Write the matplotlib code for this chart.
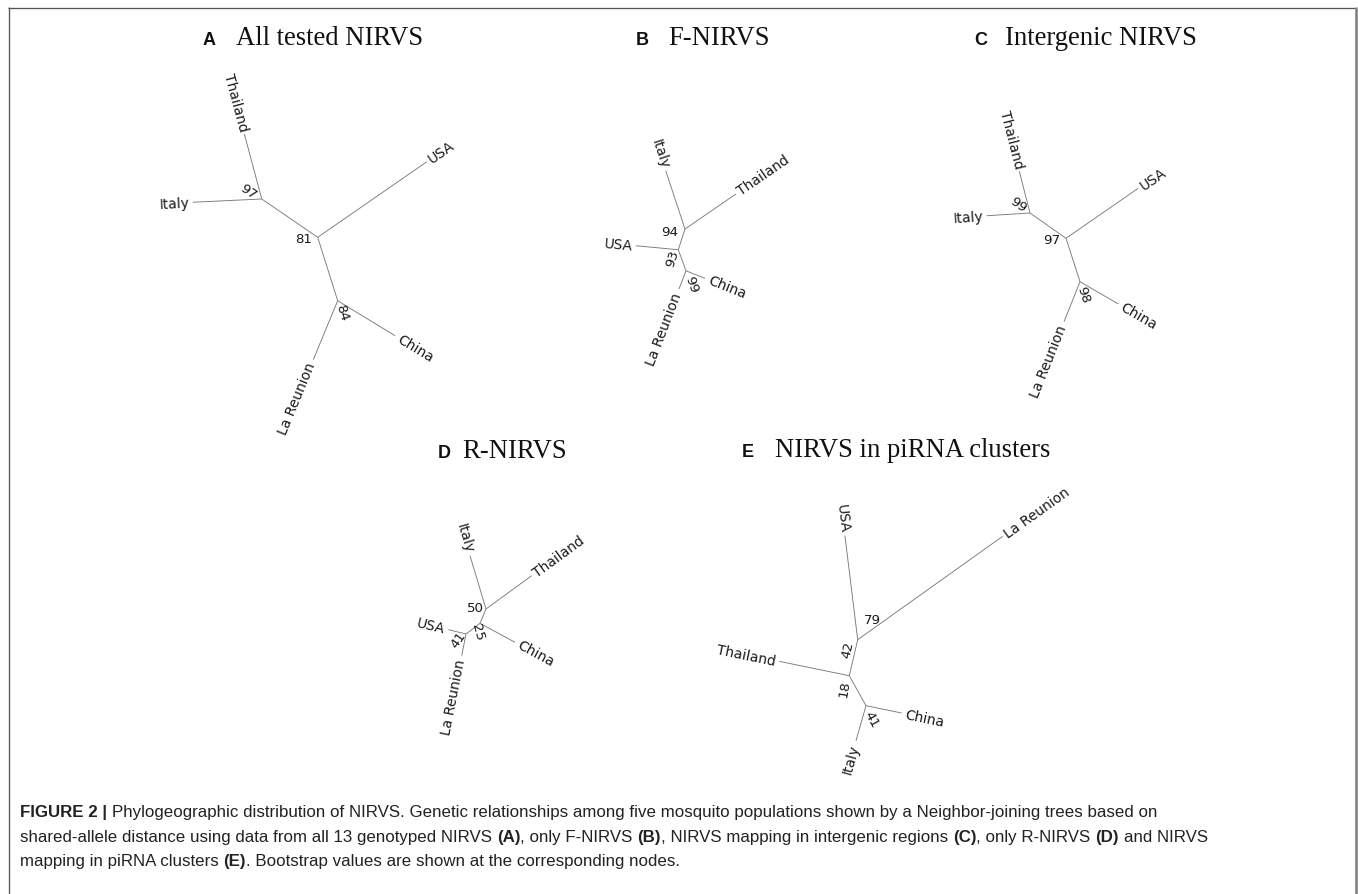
import numpy as np
import matplotlib
matplotlib.use("Agg")
import matplotlib.pyplot as plt

# ---------------------------------------------------------------------------
# Neighbor-joining trees (unrooted, radial layout).
# Each tree: node, parent, branch length, branch direction (degrees).
# ---------------------------------------------------------------------------
tree_a_nodes = ["n97", "Thailand", "Italy", "USA", "n84", "China", "La Reunion"]
tree_a_parents = ["root", "n97", "n97", "root", "root", "n84", "n84"]
tree_a_lengths = [67.8, 67.3, 69.1, 132.6, 66.5, 67.1, 63.8]
tree_a_angles = [145.6, 105.0, 182.7, 34.7, -72.5, -31.4, -112.5]
tree_a_support_nodes = ["root", "n97", "n84"]
tree_a_support = [81, 97, 84]

tree_b_nodes = ["Italy", "Thailand", "n93", "USA", "n99", "China", "La Reunion"]
tree_b_parents = ["root", "root", "root", "n93", "n93", "n99", "n99"]
tree_b_lengths = [61.4, 61.9, 21.8, 42.5, 22.4, 20.5, 19.6]
tree_b_angles = [108.3, 34.5, -107.9, 174.6, -69.9, -21.8, -111.0]
tree_b_support_nodes = ["root", "n93", "n99"]
tree_b_support = [94, 93, 99]

tree_c_nodes = ["n99", "Thailand", "Italy", "USA", "n98", "China", "La Reunion"]
tree_c_parents = ["root", "n99", "n99", "root", "root", "n98", "n98"]
tree_c_lengths = [44.0, 43.0, 43.4, 87.9, 45.6, 44.3, 43.1]
tree_c_angles = [144.9, 104.4, 183.6, 34.7, -72.1, -30.2, -111.8]
tree_c_support_nodes = ["root", "n99", "n98"]
tree_c_support = [97, 99, 98]

tree_d_nodes = ["Italy", "Thailand", "n25", "China", "n41", "USA", "La Reunion"]
tree_d_parents = ["root", "root", "root", "n25", "n25", "n41", "n41"]
tree_d_lengths = [55.7, 56.5, 15.5, 39.8, 17.6, 18.2, 22.1]
tree_d_angles = [106.7, 36.1, -112.8, -28.5, -142.6, 166.3, -101.2]
tree_d_support_nodes = ["root", "n25", "n41"]
tree_d_support = [50, 25, 41]

tree_e_nodes = ["USA", "La Reunion", "n18", "Thailand", "n41", "China", "Italy"]
tree_e_parents = ["root", "root", "root", "n18", "n18", "n41", "n41"]
tree_e_lengths = [104.8, 178.1, 37.0, 71.5, 34.3, 36.4, 36.4]
tree_e_angles = [97.0, 35.5, -103.1, 168.4, -60.9, -11.6, -105.9]
tree_e_support_nodes = ["root", "root", "n18", "n41"]
tree_e_support = [79, 42, 18, 41]

panel_letters = ["A", "B", "C", "D", "E"]
panel_titles = ["All tested NIRVS", "F-NIRVS", "Intergenic NIRVS",
                "R-NIRVS", "NIRVS in piRNA clusters"]

caption_lines = [
    [("FIGURE 2 |", True),
     (" Phylogeographic distribution of NIRVS. Genetic relationships among five "
      "mosquito populations shown by a Neighbor-joining trees based on", False)],
    [("shared-allele distance using data from all 13 genotyped NIRVS ", False),
     ("(A)", True), (", only F-NIRVS ", False), ("(B)", True),
     (", NIRVS mapping in intergenic regions ", False), ("(C)", True),
     (", only R-NIRVS ", False), ("(D)", True), (" and NIRVS", False)],
    [("mapping in piRNA clusters ", False), ("(E)", True),
     (". Bootstrap values are shown at the corresponding nodes.", False)],
]

# ---------------------------------------------------------------------------
# Layout (pixel space)
# ---------------------------------------------------------------------------
W, H, DPI = 1358, 895, 100
BRANCH_COLOR = "#7a7a7a"
TEXT_COLOR = "#1a1a1a"
LEAF_FS = 10.0
SUPPORT_FS = 9.6

trees = [
    dict(nodes=tree_a_nodes, parents=tree_a_parents, lengths=tree_a_lengths,
         angles=tree_a_angles, snodes=tree_a_support_nodes, svals=tree_a_support,
         root=(317.7, 238.3),
         soffs=[(-14.5, 1.5), (-13.5, -8.0), (4.5, 11.5)],
         srots=[0, -35, -72]),
    dict(nodes=tree_b_nodes, parents=tree_b_parents, lengths=tree_b_lengths,
         angles=tree_b_angles, snodes=tree_b_support_nodes, svals=tree_b_support,
         root=(685.0, 230.0),
         soffs=[(-15.0, 2.5), (-5.5, 8.0), (5.5, 13.0)],
         srots=[0, 72, -70]),
    dict(nodes=tree_c_nodes, parents=tree_c_parents, lengths=tree_c_lengths,
         angles=tree_c_angles, snodes=tree_c_support_nodes, svals=tree_c_support,
         root=(1066.0, 239.3),
         soffs=[(-14.5, 1.5), (-12.0, -8.5), (3.5, 12.5)],
         srots=[0, -35, -72]),
    dict(nodes=tree_d_nodes, parents=tree_d_parents, lengths=tree_d_lengths,
         angles=tree_d_angles, snodes=tree_d_support_nodes, svals=tree_d_support,
         root=(486.0, 610.0),
         soffs=[(-10.5, -1.5), (-2.5, 8.0), (-7.5, 5.0)],
         srots=[0, -75, 55]),
    dict(nodes=tree_e_nodes, parents=tree_e_parents, lengths=tree_e_lengths,
         angles=tree_e_angles, snodes=tree_e_support_nodes, svals=tree_e_support,
         root=(857.7, 640.7),
         soffs=[(15.0, -20.0), (-10.0, 9.5), (-4.5, 12.5), (5.5, 13.5)],
         srots=[0, 77, 80, -62]),
]

title_pos = [  # (letter x, title x, baseline y)
    (203, 236, 45), (636, 668, 45), (974, 1005, 45),
    (438, 462, 458), (742, 775, 457),
]

fig = plt.figure(figsize=(W / DPI, H / DPI), dpi=DPI)
ax = fig.add_axes([0, 0, 1, 1])
ax.set_xlim(0, W)
ax.set_ylim(H, 0)
ax.axis("off")

px = 72.0 / DPI  # points per pixel

# outer frame
ax.plot([8, 1355], [8.5, 8.5], color="#555555", lw=1.3 * px, solid_capstyle="butt")
ax.plot([8.5, 8.5], [8, H], color="#555555", lw=1.3 * px, solid_capstyle="butt")
ax.plot([1355.5, 1355.5], [8, H], color="#808080", lw=2.6 * px, solid_capstyle="butt")


def draw_tree(t):
    pos = {"root": t["root"]}
    leaf_set = set(t["nodes"]) - set(t["parents"])
    for node, par, length, ang in zip(t["nodes"], t["parents"], t["lengths"], t["angles"]):
        x0, y0 = pos[par]
        a = np.radians(ang)
        x1, y1 = x0 + length * np.cos(a), y0 - length * np.sin(a)
        pos[node] = (x1, y1)
        ax.plot([x0, x1], [y0, y1], color=BRANCH_COLOR, lw=0.9 * px,
                solid_capstyle="butt")
        if node in leaf_set:
            gap = 3.5
            tx, ty = x1 + gap * np.cos(a), y1 - gap * np.sin(a)
            if np.cos(a) < 0:
                rot, ha = ang - 180.0, "right"
            else:
                rot, ha = ang, "left"
            ax.text(tx, ty, node, rotation=rot, rotation_mode="anchor",
                    ha=ha, va="center", fontsize=LEAF_FS, color=TEXT_COLOR,
                    family="DejaVu Sans")
    for node, val, (dx, dy), rot in zip(t["snodes"], t["svals"], t["soffs"], t["srots"]):
        x, y = pos[node]
        ax.text(x + dx, y + dy, str(val), rotation=rot, rotation_mode="anchor",
                ha="center", va="center", fontsize=SUPPORT_FS, color=TEXT_COLOR,
                family="DejaVu Sans")


for t in trees:
    draw_tree(t)

for letter, title, (lx, tx, by) in zip(panel_letters, panel_titles, title_pos):
    ax.text(lx, by, letter, ha="left", va="baseline", fontsize=13,
            fontweight="bold", family="Liberation Sans", color="#111111")
    ax.text(tx, by, title, ha="left", va="baseline", fontsize=19.2,
            family="Liberation Serif", color="#111111")

# caption with inline bold segments
fig.canvas.draw()
renderer = fig.canvas.get_renderer()
CAP_FAMILY = "Liberation Sans"
CAP_FS = 12.2


def text_width(s, bold):
    tt = ax.text(0, 0, s, fontsize=CAP_FS, family=CAP_FAMILY,
                 fontweight="bold" if bold else "normal")
    bb = tt.get_window_extent(renderer)
    tt.remove()
    return bb.width


space_w = text_width("x x", False) - text_width("xx", False)
cap_x0 = 20
cap_y = [817, 842, 866]
for line, y in zip(caption_lines, cap_y):
    x = cap_x0
    for seg, bold in line:
        if seg.startswith(" "):
            x += space_w
        core = seg.strip()
        tt = ax.text(x, y, core, fontsize=CAP_FS, family=CAP_FAMILY,
                     fontweight="bold" if bold else "normal",
                     ha="left", va="baseline", color="#222222")
        x += tt.get_window_extent(renderer).width
        if seg.endswith(" "):
            x += space_w

fig.savefig("out.png", dpi=DPI)
